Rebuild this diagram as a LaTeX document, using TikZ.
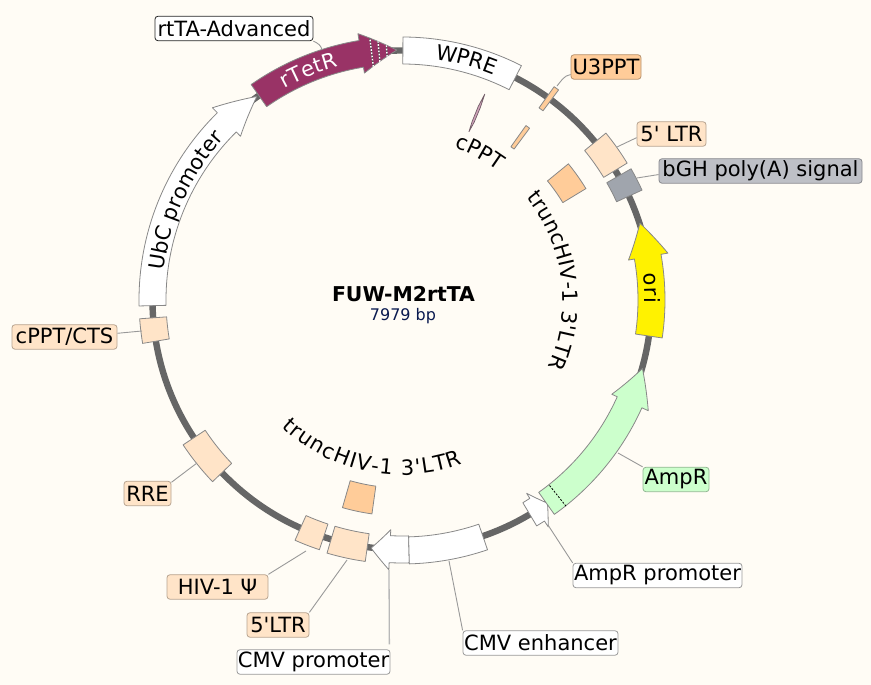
\documentclass[tikz,border=0pt]{standalone}
\usepackage{fontspec}
\setmainfont[Ligatures=TeXOff]{DejaVu Sans}
\usetikzlibrary{decorations.text}
\definecolor{paper}{HTML}{FFFCF5}
\definecolor{ringc}{HTML}{666666}
\definecolor{edgec}{HTML}{888888}
\definecolor{leadc}{HTML}{999999}
\definecolor{bisq}{HTML}{FFE4C8}
\definecolor{peach}{HTML}{FFCC99}
\definecolor{slate}{HTML}{A0A5AD}
\definecolor{slatel}{HTML}{BEC0C6}
\definecolor{maroon}{HTML}{993366}
\definecolor{mint}{HTML}{CCFFCC}
\definecolor{navy}{HTML}{0A1A50}
\newcommand{\lblfont}{\fontsize{21}{24}\selectfont}
\tikzset{
  feat/.style={draw=edgec,line width=0.8pt,fill=#1,line join=round},
  lab/.style={rounded corners=3pt,inner sep=0pt,font=\lblfont,text=black,line width=0.8pt,
     minimum height=24.5pt,fill=#1},
  labw/.style={lab=white,draw=leadc},
  labt/.style={lab=#1,draw=#1!72!black},
  lead/.style={draw=leadc,line width=0.9pt},
}
% annular sector
\newcommand{\sectorf}[5]{%
  \path[feat=#5] (#1:#3) arc[start angle=#1,end angle=#2,radius=#3] -- (#2:#4)
     arc[start angle=#2,end angle=#1,radius=#4] -- cycle;}
% curved arrow: tail, base of head, tip, fill
\newcommand{\arrowf}[4]{%
  \path[feat=#4] (#1:236) arc[start angle=#1,end angle=#2,radius=236] -- (#2:230)
     .. controls ({#2+(#3-#2)/3}:236.7) and ({#2+2*(#3-#2)/3}:243.3) .. (#3:250)
     .. controls ({#2+2*(#3-#2)/3}:256.7) and ({#2+(#3-#2)/3}:263.3) .. (#2:270)
     -- (#2:263) arc[start angle=#2,end angle=#1,radius=263] -- cycle;}
% text on an arc
\newcommand{\arctext}[5]{%
  \path[decorate,decoration={text along path,text align={fit to path},text={|\lblfont#5|#4}}]
     (#1:#3) arc[start angle=#1,end angle=#2,radius=#3];}
\begin{document}
\begin{tikzpicture}[x=1pt,y=1pt]
\path[fill=paper] (0,0) rectangle (871,685);
\useasboundingbox (0,0) rectangle (871,685);
\begin{scope}[shift={(402,385)}]
  \draw[ringc,line width=6.4pt] (0,0) circle[radius=249.5];
  % arrows
  \arrowf{181.3}{134.6}{125.5}{white}
  \arrowf{125}{99.4}{91.2}{maroon}
  \arrowf{-8.3}{10}{17.9}{yellow}
  \arrowf{-59.2}{-57.2}{-54.4}{white}
  \arrowf{-54.6}{-24.2}{-15.9}{mint}
  \arrowf{-88.4}{-92.8}{-97.1}{white}
  % sectors
  \sectorf{63}{89.8}{236}{263}{white}
  \sectorf{-88.4}{-71.1}{237}{264}{white}
  \sectorf{53.3}{54.5}{236}{262}{peach}
  \sectorf{53.4}{54.6}{188}{214}{peach}
  \sectorf{31.2}{39.3}{188}{215}{peach}
  \sectorf{254}{262}{188}{216}{peach}
  \sectorf{31.3}{39.3}{236}{263.5}{bisq}
  \sectorf{24.6}{29.8}{236}{264}{slate}
  \sectorf{-106.5}{-98}{236}{264}{bisq}
  \sectorf{-114}{-108.3}{236}{263}{bisq}
  \sectorf{-146.5}{-136.2}{236}{262.5}{bisq}
  \sectorf{184.1}{189.5}{236}{263}{bisq}
  % thin cPPT sliver
  \path[draw=ringc!80!maroon,line width=0.7pt,fill=maroon!45!white] (68.1:222) -- (67.85:208) -- (67.9:192) -- (68.3:181)
     -- (68.55:192) -- (68.5:208) -- cycle;
  % hatching in the rTetR head
  \foreach \a/\h in {97/14.5,95.3/10.2,93.5/5.7}{
    \draw[black!70,line width=1.2pt] (\a:{249.5-\h}) -- (\a:{249.5+\h});
    \draw[white,line width=1.4pt,dash pattern=on 1.6pt off 1.6pt] (\a:{249.5-\h}) -- (\a:{249.5+\h});
  }
  % AmpR marker
  \draw[black,line width=0.8pt,dash pattern=on 2pt off 1.5pt] (-51.5:237) -- (-51.5:264);
  % curved texts
  \arctext{173}{138.5}{240}{UbC promoter}{}
  \arctext{119}{105.3}{242}{rTetR}{\color{white}}
  \arctext{82.2}{68}{243}{WPRE}{}
  \arctext{71}{55.5}{161}{cPPT}{}
  \arctext{6.3}{-0.7}{243}{ori}{}
  \arctext{39.4}{-24.6}{161}{truncHIV-1 3'LTR}{}
  \arctext{-133.4}{-69.7}{175}{truncHIV-1 3'LTR}{}
\end{scope}
% title
\node[font=\fontsize{20.4}{24}\selectfont\bfseries,anchor=base,inner sep=0pt] (title) at (403.5,383) {FUW-M2rtTA};
\node[font=\fontsize{16}{18}\selectfont,text=navy,anchor=base,inner sep=0pt] (size) at (403,364) {7979 bp};
% labels
\node[lab=white,draw=black!85,minimum width=158pt] (rtta) at (234,656.5) {rtTA-Advanced};
\node[labt=peach,minimum width=70pt] (u3) at (606,618) {U3PPT};
\node[labt=bisq,minimum width=69pt] (ltra) at (671.5,551) {5' LTR};
\node[labt=slatel,minimum width=203pt] (bgh) at (760.5,514) {bGH poly(A) signal};
\node[labt=mint,minimum width=66pt] (amp) at (676,205.5) {AmpR};
\node[labw,minimum width=169pt] (ampp) at (657.5,109.5) {AmpR promoter};
\node[labw,minimum width=155pt] (cmve) at (540.5,42) {CMV enhancer};
\node[labw,minimum width=153pt] (cmvp) at (313.5,23) {CMV promoter};
\node[labt=bisq,minimum width=62pt] (ltrb) at (278,60) {5'LTR};
\node[labt=bisq,minimum width=101pt] (hiv) at (217.5,98) {HIV-1 Ψ\hspace{9pt}};
\node[labt=bisq,minimum width=47pt] (rre) at (147.5,191.5) {RRE};
\node[labt=bisq,minimum width=105pt] (cts) at (64.5,348) {cPPT/CTS};
% leader ends
\coordinate (ertta) at (322,635);
\coordinate (eu3) at (557,599);
\coordinate (eltra) at (617,538);
\coordinate (ebgh) at (637,507);
\coordinate (eamp) at (618,232);
\coordinate (eampp) at (548,160);
\coordinate (ecmve) at (449,124);
\coordinate (ecmvp) at (389,115);
\coordinate (eltrb) at (347,125);
\coordinate (ehiv) at (306,134);
\coordinate (erre) at (197,222);
\coordinate (ects) at (142,354);
\draw[lead] (rtta.south east) to[out=-25,in=100] (ertta);
\draw[lead] (u3.192) to[out=190,in=50] (eu3);
\draw[lead] (ltra.186) -- (eltra);
\draw[lead] (bgh.182) -- (ebgh);
\draw[lead] (amp.north west) -- (eamp);
\draw[lead] (ampp.north west) -- (eampp);
\draw[lead] (cmve.north west) -- (ecmve);
\draw[leadc!70,line width=1.3pt,shorten <=5pt] (cmvp.north east) ++(-1,0) coordinate (tcmvp) (tcmvp) -- (ecmvp);
\draw[lead] (ltrb.north east) -- (eltrb);
\draw[lead] (hiv.north east) -- (ehiv);
\draw[lead] (rre.25) -- (erre);
\draw[lead] (cts.4) -- (ects);
\end{tikzpicture}
\end{document}
